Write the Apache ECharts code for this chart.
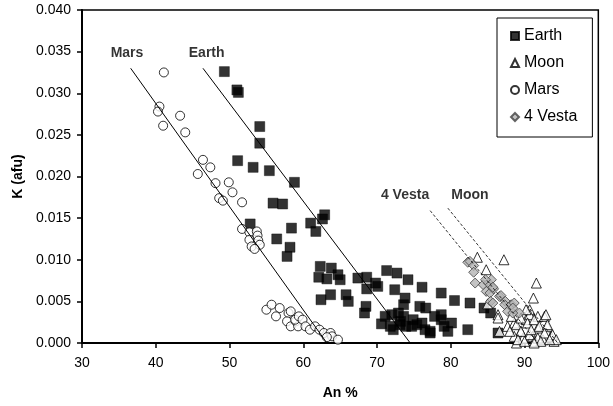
<!DOCTYPE html>
<html>
<head>
<meta charset="utf-8">
<script src="https://cdn.jsdelivr.net/npm/echarts@6/dist/echarts.min.js"></script>
<style>html,body{margin:0;padding:0;background:#fff}#c{width:613px;height:406px}</style>
</head>
<body>
<div id="c"></div>
<script>
var earth = [[49.3,0.0326],[51.0,0.0304],[51.2,0.0301],[54.1,0.0260],[54.1,0.0240],[51.1,0.0219],[53.2,0.0211],[55.4,0.0207],[58.8,0.0193],
[52.8,0.0143],[55.9,0.0168],[57.2,0.0167],[58.4,0.0138],[56.4,0.0125],[58.2,0.0115],[57.8,0.0104],
[61.0,0.0144],[61.7,0.0134],[62.6,0.0149],[62.9,0.0154],
[62.3,0.0092],[63.8,0.0090],[62.1,0.0079],[63.2,0.0077],[64.7,0.0082],[65.0,0.0076],[63.7,0.0058],[62.4,0.0052],[65.8,0.0058],[66.1,0.0050],
[67.4,0.0078],[68.6,0.0079],[68.6,0.0065],[69.8,0.0072],[70.1,0.0068],[68.5,0.0044],[68.3,0.0036],
[71.3,0.0087],[72.7,0.0084],[74.2,0.0076],[72.4,0.0064],[76.1,0.0067],[73.8,0.0054],[78.7,0.0060],[73.6,0.0046],[75.8,0.0044],[76.6,0.0042],
[71.1,0.0032],[72.0,0.0034],[72.9,0.0036],[70.6,0.0023],[71.8,0.0020],[72.2,0.0016],[73.2,0.0026],[73.9,0.0020],[74.9,0.0028],[75.4,0.0022],[76.1,0.0024],[76.5,0.0016],[77.2,0.0014],[77.8,0.0032],[78.7,0.0028],[79.1,0.0020],
[80.5,0.0051],[82.6,0.0048],[78.7,0.0034],[80.1,0.0024],[79.6,0.0014],[82.3,0.0016],[84.5,0.0042],[85.4,0.0036],[86.4,0.0012],[74.7,0.0020],[77.2,0.0012],[73.6,0.0032],[73.1,0.0022]];

var moon = [[83.6,0.0103],[87.2,0.0100],[84.8,0.0088],[91.6,0.0072],[91.2,0.0054],[85.0,0.0047],[86.4,0.0034],[90.7,0.0040],[91.8,0.0032],[92.7,0.0032],[86.6,0.0014],[87.7,0.0020],[88.6,0.0024],[88.9,0.0000],[89.5,0.0014],[90.2,0.0028],[91.1,0.0008],[91.8,0.0018],[93.1,0.0020],[93.6,0.0008],[94.0,0.0002],[92.5,0.0004],[91.3,0.0002],[89.8,0.0006],
[86.4,0.0030],[88.2,0.0032],[88.9,0.0022],[89.5,0.0030],[90.7,0.0034],[90.4,0.0024],[91.3,0.0028],[92.0,0.0020],[93.1,0.0022],[92.7,0.0012],[93.8,0.0010],[94.3,0.0004],[93.4,0.0004],[91.8,0.0006],[90.7,0.0010],[89.5,0.0014],[88.6,0.0008],[88.0,0.0014],[90.9,0.0016],[92.2,0.0002],[91.3,0.0000],[89.1,0.0004],[90.0,0.0002],[92.9,0.0034],[90.2,0.0040]];

var mars = [[41.1,0.0325],[40.5,0.0284],[40.3,0.0278],[41.0,0.0261],[43.3,0.0273],[44.0,0.0253],[46.4,0.0220],[47.4,0.0211],[45.7,0.0203],[48.1,0.0192],[49.9,0.0193],[50.4,0.0181],[48.6,0.0174],[49.1,0.0171],[51.7,0.0169],
[51.7,0.0137],[52.7,0.0133],[53.7,0.0134],[53.8,0.0129],[52.7,0.0124],[53.9,0.0123],[53.0,0.0116],[54.1,0.0118],[53.4,0.0113],
[55.0,0.0040],[55.7,0.0046],[56.8,0.0042],[56.3,0.0032],[58.0,0.0036],[57.8,0.0026],[58.3,0.0020],[59.0,0.0026],[59.3,0.0020],
[58.3,0.0038],[58.9,0.0028],[59.4,0.0032],[59.9,0.0028],[60.3,0.0020],[60.9,0.0016],[61.6,0.0020],[62.2,0.0016],[62.8,0.0012],[63.7,0.0012],[63.9,0.0008],[64.7,0.0004],[63.2,0.0007]];

var vesta = [[82.3,0.0097],[82.6,0.0098],[83.1,0.0093],[83.1,0.0085],[83.3,0.0072],[84.4,0.0070],[85.1,0.0072],[85.5,0.0076],[84.7,0.0076],[84.8,0.0062],[85.3,0.0060],[85.8,0.0065],[85.7,0.0067],[86.6,0.0056],[86.8,0.0057],[85.4,0.0050],[85.7,0.0048],[87.4,0.0050],[87.3,0.0046],[88.2,0.0046],[87.7,0.0038],[88.6,0.0048],[89.3,0.0036],[88.4,0.0036],[88.4,0.0042]];

var marsLine = [[36.6,0.0330],[63.2,0.0]];
var earthLine = [[46.4,0.0330],[74.5,0.0]];
var vestaLine = [[77.2,0.0159],[91.8,0.0]];
var moonLine = [[79.6,0.0162],[94.5,0.0]];

var lineLabels = [[36.1,0.0348,'Mars'],[46.9,0.0348,'Earth'],[73.8,0.0178,'4 Vesta'],[82.6,0.0178,'Moon']];

var xTicks = {min:30, max:100, interval:10};
var yTicks = {min:0, max:0.04, interval:0.005};

var chart = echarts.init(document.getElementById('c'), null, {renderer:'canvas'});
var FONT = 'Liberation Sans, Arial, sans-serif';
function lineSeries(name, data, dashed){
  return {name:name, type:'line', data:data, symbol:'none', silent:true, z:5,
    lineStyle:{color:'#000', width:dashed?0.8:1, type:dashed?[3,2]:'solid'}};
}
chart.setOption({
  animation:false,
  backgroundColor:'#fff',
  textStyle:{fontFamily:FONT},
  grid:{left:82, right:12, top:10, bottom:63, show:true, borderColor:'#000', borderWidth:1.5, backgroundColor:'#fff'},
  legend:{
    orient:'vertical', left:497, top:18,
    data:[{name:'Earth', icon:'rect'},{name:'Moon', icon:'triangle'},{name:'Mars', icon:'circle'},{name:'4 Vesta', icon:'diamond'}],
    itemWidth:8, itemHeight:8, itemGap:11,
    padding:[10,15,12,13],
    borderColor:'#000', borderWidth:1, backgroundColor:'#fff',
    textStyle:{fontFamily:FONT, fontSize:16, color:'#000', lineHeight:16}
  },
  xAxis:{type:'value', min:xTicks.min, max:xTicks.max, interval:xTicks.interval,
    name:'An %', nameLocation:'middle', nameGap:43,
    nameTextStyle:{fontFamily:FONT, fontSize:14, fontWeight:'bold', color:'#000'},
    axisLine:{lineStyle:{color:'#000', width:2}},
    axisTick:{show:true, length:5, lineStyle:{color:'#000', width:1.5}},
    axisLabel:{fontFamily:FONT, fontSize:14, color:'#000', margin:13},
    splitLine:{show:false}},
  yAxis:{type:'value', min:yTicks.min, max:yTicks.max, interval:yTicks.interval,
    name:'K (afu)', nameLocation:'middle', nameGap:56,
    nameTextStyle:{fontFamily:FONT, fontSize:14, fontWeight:'bold', color:'#000'},
    axisLine:{show:true, lineStyle:{color:'#000', width:2}},
    axisTick:{show:true, length:5, lineStyle:{color:'#000', width:1.5}},
    axisLabel:{fontFamily:FONT, fontSize:14, color:'#000', margin:11, formatter:function(v){return v.toFixed(3);}},
    splitLine:{show:false}},
  series:[
    {name:'Earth', type:'scatter', data:earth, symbol:'rect', symbolSize:10, clip:false, z:3,
      itemStyle:{color:'#000', borderColor:'#000', borderWidth:0.5}},
    {name:'Moon', type:'scatter', data:moon, symbol:'triangle', symbolSize:10, clip:false, z:3,
      itemStyle:{color:'#fff', borderColor:'#000', borderWidth:1}},
    {name:'Mars', type:'scatter', data:mars, symbol:'circle', symbolSize:9, clip:false, z:3,
      itemStyle:{color:'#fff', borderColor:'#000', borderWidth:1}},
    {name:'4 Vesta', type:'scatter', data:vesta, symbol:'diamond', symbolSize:10, clip:false, z:4,
      itemStyle:{color:'#b4b4b4', borderColor:'#404040', borderWidth:1}},
    lineSeries('MarsLine', marsLine, false),
    lineSeries('EarthLine', earthLine, false),
    lineSeries('VestaLine', vestaLine, true),
    lineSeries('MoonLine', moonLine, true),
    {name:'labels', type:'scatter', data:lineLabels, symbolSize:0, silent:true, z:6,
      label:{show:true, position:'inside', formatter:function(p){return p.data[2];},
        fontFamily:FONT, fontSize:14, fontWeight:'bold', color:'#000'}}
  ]
});
</script>
</body>
</html>
